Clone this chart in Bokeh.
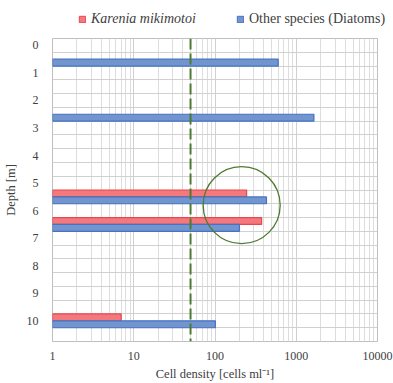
from bokeh.plotting import figure
from bokeh.layouts import column, row
from bokeh.models import (Range1d, FixedTicker, Span, Legend, LegendItem,
                          ColumnDataSource, PrintfTickFormatter)
from bokeh.embed import file_html
from bokeh.resources import INLINE

# ---- data ----
depths = [0.5, 2.5, 5.5, 6.5, 10.0]
karenia = [0, 0, 245, 375, 7]
others = [600, 1650, 430, 200, 101]
threshold = 50
circle_x = [213]
circle_y = [5.8]
depth_ticks = list(range(0, 11))
x_ticks = [1, 10, 100, 1000, 10000]
series_names = ["Karenia mikimotoi", "Other species (Diatoms)"]

RED_FILL, RED_LINE = "#F3797C", "#E8474D"
BLUE_FILL, BLUE_LINE = "#7395CD", "#4472C4"
GREEN = "#4F7A32"
FONT = "'Liberation Serif', 'Times New Roman', serif"
TXT = "#404040"

p = figure(width=393, height=345, x_axis_type="log",
           x_range=Range1d(1, 10000), y_range=Range1d(10.75, -0.25),
           output_backend="svg", toolbar_location=None,
           min_border_left=52, min_border_right=16,
           min_border_top=0, min_border_bottom=41)

p.outline_line_color = "#BFBFBF"

# grids
minor = [m * 10 ** e for e in range(0, 4) for m in range(2, 10)]
p.xaxis.ticker = FixedTicker(ticks=x_ticks, minor_ticks=minor)
p.xgrid.ticker = FixedTicker(ticks=x_ticks, minor_ticks=minor)
p.xgrid.grid_line_color = "#D0D0D0"
p.xgrid.minor_grid_line_color = "#DDDDDD"
p.ygrid.ticker = FixedTicker(ticks=[-0.25 + 0.5 * k for k in range(23)])
p.ygrid.grid_line_color = "#D0D0D0"
p.yaxis.ticker = FixedTicker(ticks=depth_ticks)

for ax in (p.xaxis, p.yaxis):
    ax.axis_line_color = None
    ax.major_tick_line_color = None
    ax.minor_tick_line_color = None
    ax.major_tick_out = 0
    ax.minor_tick_out = 0
    ax.major_label_text_font = FONT
    ax.major_label_text_font_size = "12px"
    ax.major_label_text_color = TXT
    ax.axis_label_text_font = FONT
    ax.axis_label_text_font_size = "12.5px"
    ax.axis_label_text_font_style = "normal"
    ax.axis_label_text_color = TXT

p.xaxis.formatter = PrintfTickFormatter(format="%d")
p.xaxis.axis_label = "Cell density [cells ml\u207b\u00b9]"
p.xaxis.major_label_standoff = 10
p.xaxis.axis_label_standoff = 4
p.yaxis.axis_label = "Depth [m]"
p.yaxis.major_label_standoff = 14
p.yaxis.axis_label_standoff = 6

k_rows = [i for i, v in enumerate(karenia) if v > 0]
src_k = ColumnDataSource(dict(y=[depths[i] - 0.125 for i in k_rows],
                              right=[karenia[i] for i in k_rows],
                              left=[1] * len(k_rows)))
src_o = ColumnDataSource(dict(y=[d + 0.125 for d in depths], right=others,
                              left=[1] * len(depths)))

p.hbar(y="y", left="left", right="right", height=0.25, source=src_k,
       fill_color=RED_FILL, line_color=RED_LINE, line_width=1.2)
p.hbar(y="y", left="left", right="right", height=0.25, source=src_o,
       fill_color=BLUE_FILL, line_color=BLUE_LINE, line_width=1.2)

p.add_layout(Span(location=threshold, dimension="height", line_color=GREEN,
                  line_width=2, line_dash="11 4"))

p.scatter(x=circle_x, y=circle_y, size=77, marker="circle",
          fill_color=None, line_color=GREEN, line_width=1.3)

# ---- legend strip on top ----
lg = figure(width=393, height=38, x_range=Range1d(0, 1), y_range=Range1d(0, 1),
            output_backend="svg", toolbar_location=None,
            min_border=0, outline_line_color=None)
lg.axis.visible = False
lg.grid.visible = False
dk = lg.rect(x=[-5], y=[-5], width=1, height=1, fill_color=RED_FILL, line_color=RED_LINE)
do = lg.rect(x=[-5], y=[-5], width=1, height=1, fill_color=BLUE_FILL, line_color=BLUE_LINE)

common = dict(orientation="horizontal", label_text_font=FONT,
              label_text_font_size="14px", label_text_color=TXT,
              glyph_width=8, glyph_height=8, padding=0, margin=0,
              background_fill_alpha=0, border_line_color=None,
              label_standoff=5, label_height=16)
leg1 = Legend(items=[LegendItem(label=series_names[0], renderers=[dk])],
              location=(78, 11), label_text_font_style="italic", **common)
leg2 = Legend(items=[LegendItem(label=series_names[1], renderers=[do])],
              location=(236, 11), **common)
lg.add_layout(leg1)
lg.add_layout(leg2)

open("out.html", "w").write(file_html(column(row(lg), p, spacing=0), INLINE))
